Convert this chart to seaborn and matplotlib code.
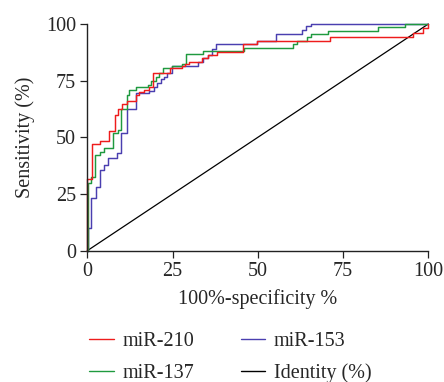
import matplotlib
matplotlib.use("Agg")
import matplotlib.pyplot as plt
import seaborn as sns
import pandas as pd
from matplotlib.lines import Line2D

# ---- data ----
red_x = [0, 0, 1.4, 3.7, 6.4, 8.0, 9.0, 10.3, 11.5, 14.2, 15.2, 16.6, 18.1, 19.4,
         24.3, 27.7, 28.6, 29.9, 33.5, 35.5, 37.9, 45.7, 49.9, 71.2, 95.6, 98.4, 100]
red_y = [0, 31.6, 46.9, 48.5, 52.9, 59.8, 62.6, 64.5, 66.2, 68.7, 69.9, 70.9, 72.1, 78.3,
         80.5, 81.6, 82.5, 83.4, 84.9, 86.3, 87.8, 91.2, 92.6, 94.4, 96.0, 98.1, 100]

blue_x = [0, 0.2, 1.2, 2.5, 3.7, 4.9, 6.2, 8.6, 10.0, 11.5, 14.2, 18.1, 19.6, 20.4,
          21.5, 22.4, 23.5, 24.7, 32.6, 34.0, 35.5, 36.5, 37.7, 49.9, 55.3, 62.9,
          64.1, 65.6, 100]
blue_y = [0, 9.9, 23.1, 28.2, 35.6, 37.8, 40.8, 43.0, 51.8, 62.6, 69.4, 70.6, 72.1, 74.1,
          75.6, 76.8, 78.5, 81.5, 83.2, 84.8, 86.5, 89.0, 91.2, 92.6, 95.6, 97.5,
          99.0, 100, 100]

green_x = [0, 0.2, 1.2, 2.4, 3.7, 4.9, 7.6, 9.0, 10.0, 11.5, 12.2, 14.2, 17.8, 18.6,
           20.0, 21.0, 22.1, 24.7, 27.8, 28.9, 34.0, 45.9, 60.2, 61.4, 64.3, 65.6,
           70.7, 85.3, 93.2, 100]
green_y = [0, 29.9, 32.5, 42.2, 43.7, 45.5, 52.0, 53.2, 62.5, 68.7, 70.7, 72.1, 73.1, 75.0,
           76.5, 78.3, 80.5, 81.6, 82.5, 86.8, 88.1, 89.3, 91.2, 92.6, 94.1, 95.6,
           97.1, 98.6, 100, 100]

identity_x = [0, 100]
identity_y = [0, 100]

ticks = [0, 25, 50, 75, 100]
labels = ["miR-210", "miR-137", "miR-153", "Identity (%)"]

C_RED = "#ee1c1c"
C_BLUE = "#4a3fb0"
C_GREEN = "#1f9a3f"
C_BLACK = "#000000"

sns.set_style("ticks")
plt.rcParams["font.family"] = ["Liberation Serif", "DejaVu Serif"]
plt.rcParams["font.size"] = 14.5

fig = plt.figure(figsize=(4.44, 3.82), dpi=100)
ax = fig.add_axes([87.3 / 444, 1 - 250.7 / 382, (428.3 - 87.3) / 444, (250.7 - 24) / 382])

lw = 1.05
sns.lineplot(x=identity_x, y=identity_y, ax=ax, color=C_BLACK, lw=0.9,
             estimator=None, sort=False, clip_on=False)
sns.lineplot(x=blue_x, y=blue_y, ax=ax, color=C_BLUE, lw=lw, drawstyle="steps-post",
             estimator=None, sort=False, clip_on=False)
sns.lineplot(x=green_x, y=green_y, ax=ax, color=C_GREEN, lw=lw, drawstyle="steps-post",
             estimator=None, sort=False, clip_on=False)
sns.lineplot(x=red_x, y=red_y, ax=ax, color=C_RED, lw=lw, drawstyle="steps-post",
             estimator=None, sort=False, clip_on=False)

ax.set_xlim(0, 100)
ax.set_ylim(0, 100)
ax.set_xticks(ticks)
ax.set_yticks(ticks)
ax.set_xticklabels([str(t) for t in ticks])
ax.set_yticklabels([str(t) for t in ticks])
ax.tick_params(axis="both", direction="out", length=5.2, width=0.9, labelsize=14.5,
               color="#222222", pad=3)
sns.despine(ax=ax)
for s in ("left", "bottom"):
    ax.spines[s].set_linewidth(1.0)
    ax.spines[s].set_color("#222222")

ax.set_xlabel("100%-specificity %", fontsize=14.5, labelpad=6)
ax.set_ylabel("Sensitivity (%)", fontsize=14.5, labelpad=8)

handles = [Line2D([], [], color=C_RED, lw=1.0),
           Line2D([], [], color=C_GREEN, lw=1.0),
           Line2D([], [], color=C_BLUE, lw=1.0),
           Line2D([], [], color=C_BLACK, lw=1.0)]
fig.legend(handles, labels, ncol=2, loc="center", bbox_to_anchor=(0.519, 0.064),
           frameon=False, fontsize=14.5, handlelength=1.2, handletextpad=0.45,
           columnspacing=2.3, labelspacing=0.62, borderpad=0, borderaxespad=0)

fig.savefig("out.png", dpi=100)
